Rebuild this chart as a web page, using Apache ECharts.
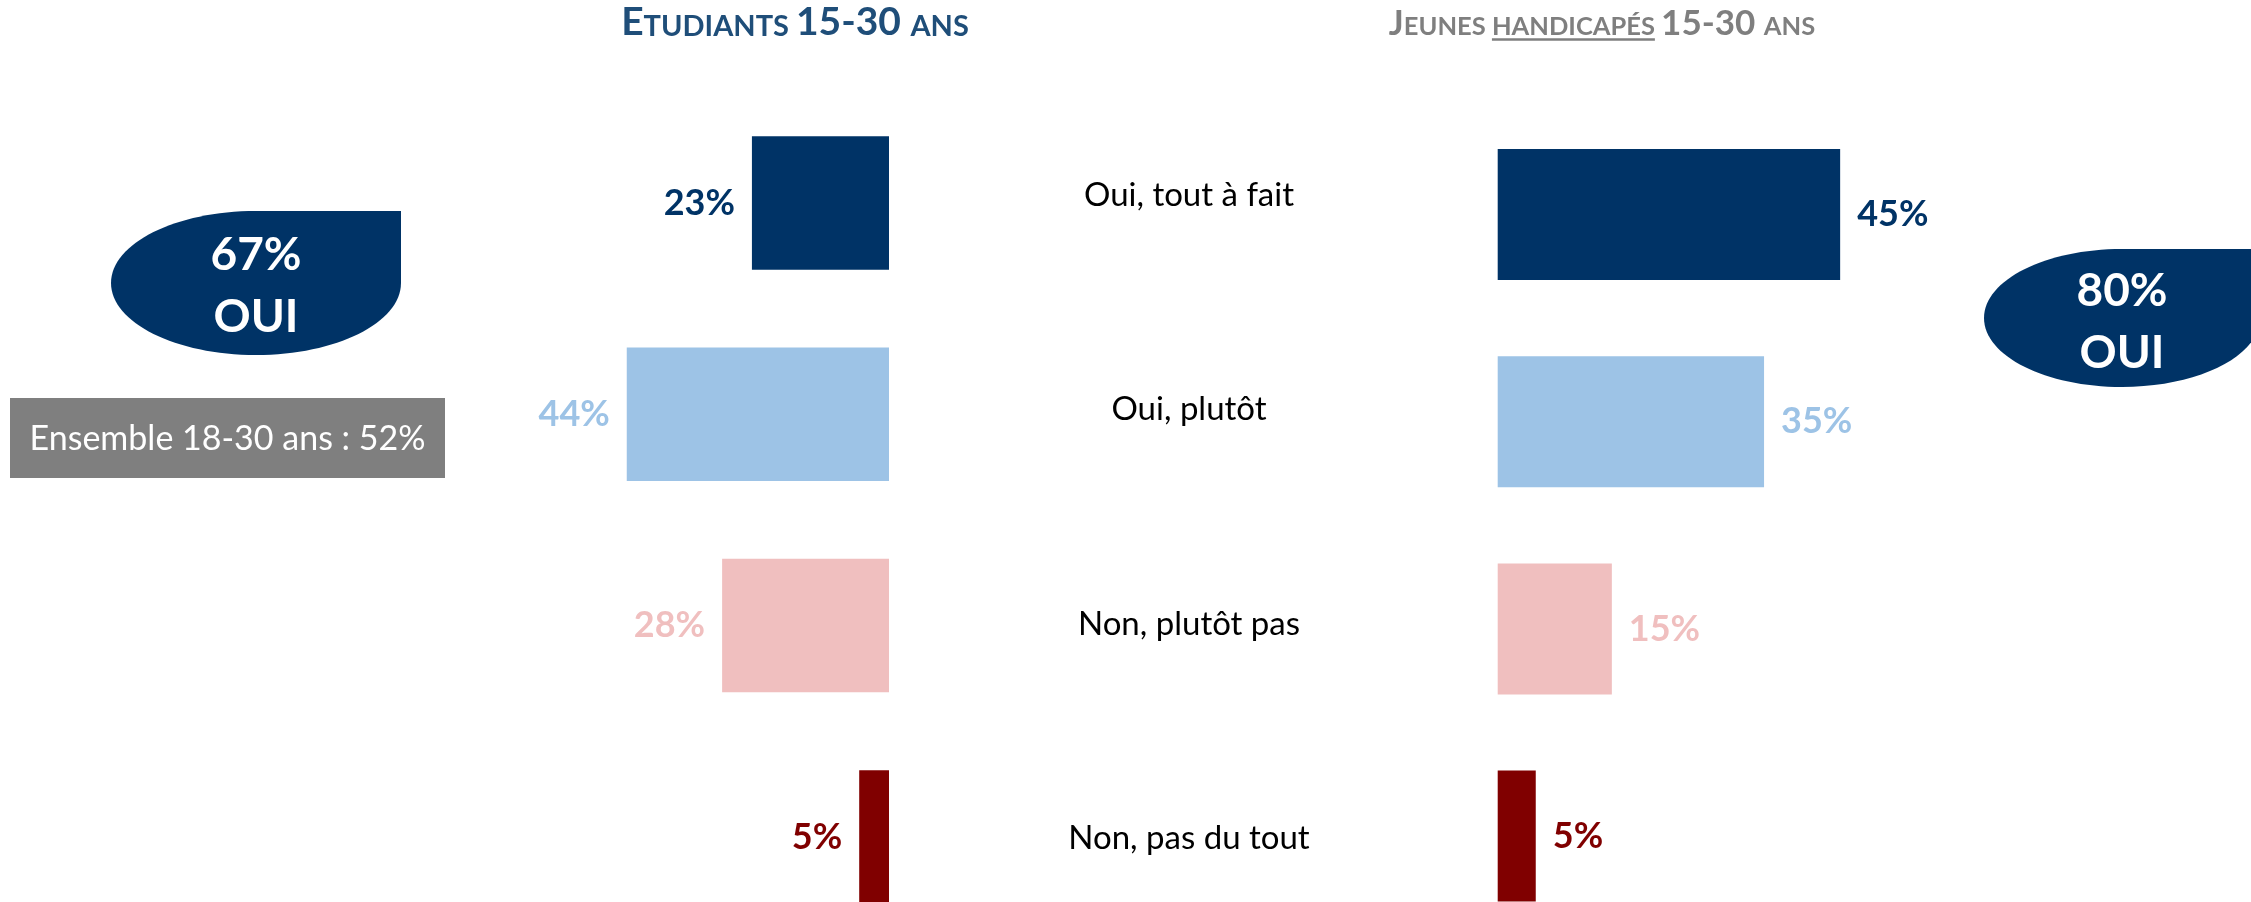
<!DOCTYPE html>
<html>
<head>
<meta charset="utf-8">
<script src="https://cdn.jsdelivr.net/npm/echarts@6/dist/echarts.min.js"></script>
<style>
html,body{margin:0;padding:0;background:#fff;}
#chart{width:2251px;height:902px;}
</style>
</head>
<body>
<div id="chart"></div>
<script>
// ---- data ----
const categories = ['Oui, tout à fait', 'Oui, plutôt', 'Non, plutôt pas', 'Non, pas du tout'];
const etudiants = [23, 44, 28, 5];
const handicapes = [45, 35, 15, 5];
const ouiEtudiants = 67;
const ouiHandicapes = 80;
const ensemble1830 = 52;
const titleLeft = ['E', 'TUDIANTS ', '15-30 ', 'ANS'];
const titleRight = ['J', 'EUNES ', 'HANDICAPÉS', ' ', '15-30 ', 'ANS'];

// ---- styles ----
const barColors = ['#003366', '#9DC3E6', '#F0BFBF', '#800000'];
const FONT = 'Lato';
const L_BIG = 39, L_SMALL = 29;
const R_BIG = 35, R_SMALL = 25.5;

function tw(text, size, weight) {
  const c = tw.c || (tw.c = document.createElement('canvas').getContext('2d'));
  c.font = (weight || 'normal') + ' ' + size + 'px ' + FONT;
  return c.measureText(text).width;
}

// bubble shape: ellipse whose top-right quarter is a square corner
const K = 0.5523;
const Bubble = echarts.graphic.extendShape({
  shape: {left: 0, right: 0, top: 0, bottom: 0},
  buildPath: function (ctx, s) {
    const cx = (s.left + s.right) / 2, cy = (s.top + s.bottom) / 2;
    const rx = (s.right - s.left) / 2, ry = (s.bottom - s.top) / 2;
    ctx.moveTo(cx, s.top);
    ctx.lineTo(s.right, s.top);
    ctx.lineTo(s.right, cy);
    ctx.bezierCurveTo(s.right, cy + K * ry, cx + K * rx, s.bottom, cx, s.bottom);
    ctx.bezierCurveTo(cx - K * rx, s.bottom, s.left, cy + K * ry, s.left, cy);
    ctx.bezierCurveTo(s.left, cy - K * ry, cx - K * rx, s.top, cx, s.top);
    ctx.closePath();
  }
});
echarts.graphic.registerShape('bubble', Bubble);

const chart = echarts.init(document.getElementById('chart'));

function richTitle(color, big, small) {
  return {
    b: {fontSize: big, fontWeight: 'bold', fontFamily: FONT, fill: color, lineHeight: big, verticalAlign: 'bottom'},
    s: {fontSize: small, fontWeight: 'bold', fontFamily: FONT, fill: color, lineHeight: small, verticalAlign: 'bottom', padding: [0, 0, 1, 0]}
  };
}

const leftTitleText = '{b|' + titleLeft[0] + '}{s|' + titleLeft[1] + '}{b|' + titleLeft[2] + '}{s|' + titleLeft[3] + '}';
const rightTitleText = '{b|' + titleRight[0] + '}{s|' + titleRight[1] + '}{s|' + titleRight[2] + '}{s|' + titleRight[3] + '}{b|' + titleRight[4] + '}{s|' + titleRight[5] + '}';

const rightCx = 1602;
const rwParts = [
  tw(titleRight[0], R_BIG, 'bold'), tw(titleRight[1], R_SMALL, 'bold'), tw(titleRight[2], R_SMALL, 'bold'),
  tw(titleRight[3], R_SMALL, 'bold'), tw(titleRight[4], R_BIG, 'bold'), tw(titleRight[5], R_SMALL, 'bold')
];
const rwTotal = rwParts.reduce((a, b) => a + b, 0);
const ulStart = rightCx - rwTotal / 2 + rwParts[0] + rwParts[1];
const ulEnd = ulStart + rwParts[2];

function barData(values) {
  return values.map((v, i) => ({
    value: v,
    itemStyle: {color: barColors[i]},
    label: {color: barColors[i]}
  }));
}

const labelStyle = {
  show: true,
  formatter: '{c}%',
  fontFamily: FONT,
  fontWeight: 'bold',
  fontSize: 36,
  distance: 17
};

const option = {
  backgroundColor: '#fff',
  animation: false,
  grid: [
    {left: 591, width: 298, top: 97.3, height: 845.3, outerBoundsMode: 'none', containLabel: false},
    {left: 1497.7, width: 380.5, top: 110.9, height: 828.8, outerBoundsMode: 'none', containLabel: false},
    {left: 1189, width: 10, top: 88, height: 858, outerBoundsMode: 'none', containLabel: false}
  ],
  xAxis: [
    {gridIndex: 0, type: 'value', min: 0, max: 50, inverse: true, show: false},
    {gridIndex: 1, type: 'value', min: 0, max: 50, show: false},
    {gridIndex: 2, type: 'value', min: 0, max: 1, show: false}
  ],
  yAxis: [
    {gridIndex: 0, type: 'category', data: categories, inverse: true, show: false},
    {gridIndex: 1, type: 'category', data: categories, inverse: true, show: false},
    {gridIndex: 2, type: 'category', data: categories, inverse: true, position: 'left',
      axisLine: {show: false}, axisTick: {show: false}, splitLine: {show: false},
      axisLabel: {align: 'center', margin: 0, fontFamily: FONT, fontSize: 33, color: '#000'}}
  ],
  series: [
    {type: 'bar', xAxisIndex: 0, yAxisIndex: 0, barWidth: 133.5, data: barData(etudiants),
      label: Object.assign({position: 'left'}, labelStyle)},
    {type: 'bar', xAxisIndex: 1, yAxisIndex: 1, barWidth: 131, data: barData(handicapes),
      label: Object.assign({position: 'right'}, labelStyle)}
  ],
  graphic: [
    {type: 'text', x: 795, y: 42, style: {text: leftTitleText, rich: richTitle('#1F4E79', L_BIG, L_SMALL), align: 'center', verticalAlign: 'bottom'}},
    {type: 'text', x: rightCx, y: 41, style: {text: rightTitleText, rich: richTitle('#7F7F7F', R_BIG, R_SMALL), align: 'center', verticalAlign: 'bottom'}},
    {type: 'line', shape: {x1: ulStart, y1: 39.5, x2: ulEnd, y2: 39.5}, style: {stroke: '#7F7F7F', lineWidth: 2.5}},
    {type: 'bubble', shape: {left: 111, right: 401, top: 211, bottom: 355}, style: {fill: '#003366'}},
    {type: 'text', x: 256, y: 255, style: {text: ouiEtudiants + '%', fill: '#fff', font: 'bold 46px ' + FONT, align: 'center', verticalAlign: 'middle'}},
    {type: 'text', x: 256, y: 317, style: {text: 'OUI', fill: '#fff', font: 'bold 46px ' + FONT, align: 'center', verticalAlign: 'middle'}},
    {type: 'bubble', shape: {left: 1984, right: 2260, top: 249, bottom: 387}, style: {fill: '#003366'}},
    {type: 'text', x: 2122, y: 291, style: {text: ouiHandicapes + '%', fill: '#fff', font: 'bold 46px ' + FONT, align: 'center', verticalAlign: 'middle'}},
    {type: 'text', x: 2122, y: 353, style: {text: 'OUI', fill: '#fff', font: 'bold 46px ' + FONT, align: 'center', verticalAlign: 'middle'}},
    {type: 'rect', shape: {x: 10, y: 398, width: 435, height: 80}, style: {fill: '#7F7F7F'}},
    {type: 'text', x: 227.5, y: 439, style: {text: 'Ensemble 18-30 ans : ' + ensemble1830 + '%', fill: '#fff', font: '34px ' + FONT, align: 'center', verticalAlign: 'middle'}}
  ]
};
chart.setOption(option);
</script>
</body>
</html>
